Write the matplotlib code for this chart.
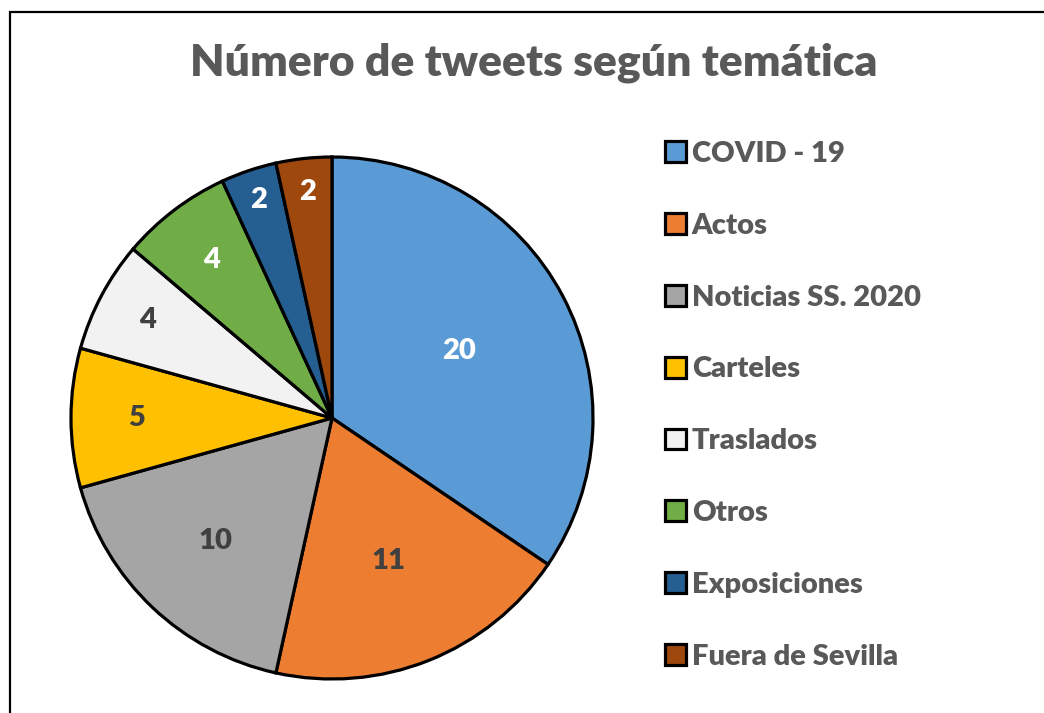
import numpy as np
import matplotlib.pyplot as plt
from matplotlib.patches import Rectangle

plt.rcParams['font.family'] = ['Lato', 'DejaVu Sans']

categorias = ['COVID - 19', 'Actos', 'Noticias SS. 2020', 'Carteles',
              'Traslados', 'Otros', 'Exposiciones', 'Fuera de Sevilla']
valores = [20, 11, 10, 5, 4, 4, 2, 2]
colores = ['#5B9BD5', '#ED7D31', '#A5A5A5', '#FFC000',
           '#F2F2F2', '#70AD47', '#255E91', '#9E480E']
col_etiqueta = ['white', '#404040', '#404040', '#404040',
                '#404040', 'white', 'white', 'white']
dist_etiqueta = [0.55, 0.59, 0.65, 0.75, 0.80, 0.76, 0.88, 0.87]

W, H = 1044, 713
fig = plt.figure(figsize=(W / 100, H / 100), dpi=100)

# marco del grafico (sale por la derecha y por abajo)
fig.patches.append(Rectangle((9.5 / W, -0.1), 1.2, 1.1 - 12.5 / H,
                             transform=fig.transFigure, fill=False,
                             edgecolor='black', lw=1.6))

cx, cy, r = 332, 418, 261
ax = fig.add_axes([(cx - r) / W, (H - cy - r) / H, 2 * r / W, 2 * r / H])
wedges, _ = ax.pie(valores, colors=colores, startangle=90, counterclock=False,
                   wedgeprops=dict(edgecolor='black', linewidth=2.3))
ax.set_xlim(-1, 1)
ax.set_ylim(-1, 1)
ax.set_aspect('equal')
for w in wedges:
    w.set_clip_on(False)

for w, v, c, d in zip(wedges, valores, col_etiqueta, dist_etiqueta):
    ang = np.deg2rad((w.theta1 + w.theta2) / 2)
    ax.text(d * np.cos(ang), d * np.sin(ang), str(v), ha='center', va='center',
            fontsize=21, fontweight='heavy', color=c)

fig.text(534 / W, 1 - 63 / H, 'Número de tweets según temática', ha='center',
         va='center', fontsize=32, fontweight='heavy', color='#595959')

leg = fig.legend(wedges, categorias, loc='upper left',
                 bbox_to_anchor=(665 / W, 1 - 141 / H), frameon=False,
                 prop=dict(size=21, weight='heavy'), labelcolor='#595959',
                 handlelength=0.72, handleheight=0.72, handletextpad=0.2,
                 labelspacing=1.57, borderpad=0, borderaxespad=0)

fig.savefig('out.png', dpi=100)
